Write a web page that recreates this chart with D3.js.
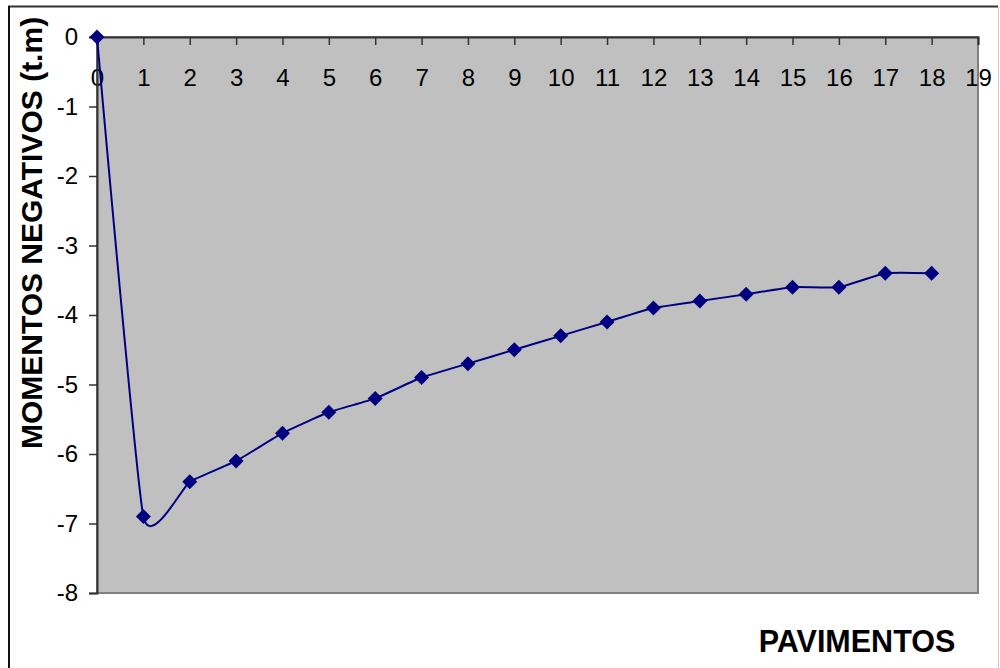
<!DOCTYPE html>
<html>
<head>
<meta charset="utf-8">
<script src="https://cdn.jsdelivr.net/npm/d3@7/dist/d3.min.js"></script>
<style>
  html, body { margin: 0; padding: 0; background: #ffffff; }
  svg { display: block; }
  text { font-family: "Liberation Sans", Arial, sans-serif; fill: #000; }
</style>
</head>
<body>
<svg id="chart" width="1000" height="668"></svg>
<script>
// Floors (pavimentos) and the negative moment at each one (t.m)
const pavimentos = [0, 1, 2, 3, 4, 5, 6, 7, 8, 9, 10, 11, 12, 13, 14, 15, 16, 17, 18];
const momentos = [0, -6.9, -6.4, -6.1, -5.7, -5.4, -5.2, -4.9, -4.7, -4.5, -4.3, -4.1, -3.9, -3.8, -3.7, -3.6, -3.6, -3.4, -3.4];
const xTicks = d3.range(0, 20);
const yTicks = [0, -1, -2, -3, -4, -5, -6, -7, -8];
const yTitle = "MOMENTOS NEGATIVOS (t.m)";
const xTitle = "PAVIMENTOS";

const svg = d3.select("#chart");

// chart frame
svg.append("line").attr("x1", 8).attr("x2", 998).attr("y1", 6.5).attr("y2", 6.5)
  .attr("stroke", "#333").attr("stroke-width", 2);
svg.append("line").attr("x1", 9).attr("x2", 9).attr("y1", 6).attr("y2", 668)
  .attr("stroke", "#111").attr("stroke-width", 2);
svg.append("line").attr("x1", 998.5).attr("x2", 998.5).attr("y1", 7).attr("y2", 668)
  .attr("stroke", "#c8c8c8").attr("stroke-width", 1);

const plot = { left: 97, top: 37, right: 978, bottom: 593 };

const x = d3.scaleLinear().domain([0, 19]).range([plot.left, plot.right]);
const y = d3.scaleLinear().domain([-8, 0]).range([plot.bottom, plot.top]);

// plot area
svg.append("rect")
  .attr("x", plot.left).attr("y", plot.top)
  .attr("width", plot.right - plot.left).attr("height", plot.bottom - plot.top)
  .attr("fill", "#c0c0c0")
  .attr("stroke", "#808080").attr("stroke-width", 2);

// category axis along the top (y = 0), labels below it
const xAxis = d3.axisBottom(x).tickValues(xTicks).tickSize(8)
  .tickFormat(d3.format("d"));
const gx = svg.append("g").attr("transform", `translate(0,${plot.top})`).call(xAxis);
gx.select(".domain").attr("stroke", "#333").attr("stroke-width", 2);
gx.selectAll(".tick line").attr("stroke", "#333").attr("stroke-width", 1.5);
gx.selectAll(".tick text")
  .attr("font-size", 24).attr("font-family", "Liberation Sans, Arial, sans-serif")
  .attr("fill", "#000").attr("dy", "0.35em").attr("y", 41);

// value axis on the left
const yAxis = d3.axisLeft(y).tickValues(yTicks).tickSize(8).tickPadding(12)
  .tickFormat(d3.format("d"));
const gy = svg.append("g").attr("transform", `translate(${plot.left},0)`).call(yAxis);
gy.select(".domain").attr("stroke", "#333").attr("stroke-width", 2);
gy.selectAll(".tick line").attr("stroke", "#333").attr("stroke-width", 1.5);
gy.selectAll(".tick text")
  .attr("font-size", 24).attr("font-family", "Liberation Sans, Arial, sans-serif")
  .attr("fill", "#000").attr("x", -19).text(d => d === 0 ? "0" : "-" + Math.abs(d));

// axis titles
svg.append("text")
  .attr("transform", `translate(42,233) rotate(-90)`)
  .attr("text-anchor", "middle")
  .attr("font-size", 30).attr("font-weight", "bold")
  .text(yTitle);
svg.append("text")
  .attr("x", 857).attr("y", 652)
  .attr("text-anchor", "middle")
  .attr("font-size", 30.5).attr("font-weight", "bold")
  .text(xTitle);

// smoothed series line
const data = pavimentos.map((p, i) => ({ p, m: momentos[i] }));
const line = d3.line()
  .x(d => x(d.p)).y(d => y(d.m))
  .curve(d3.curveCardinal.tension(0.55));
svg.append("path")
  .datum(data)
  .attr("d", line)
  .attr("fill", "none")
  .attr("stroke", "#000080")
  .attr("stroke-width", 2);

// diamond markers
const r = 7.5;
svg.append("g").selectAll("path.marker")
  .data(data)
  .join("path")
  .attr("class", "marker")
  .attr("transform", d => `translate(${x(d.p)},${y(d.m)})`)
  .attr("d", `M0,${-r}L${r},0L0,${r}L${-r},0Z`)
  .attr("fill", "#000080");
</script>
</body>
</html>
